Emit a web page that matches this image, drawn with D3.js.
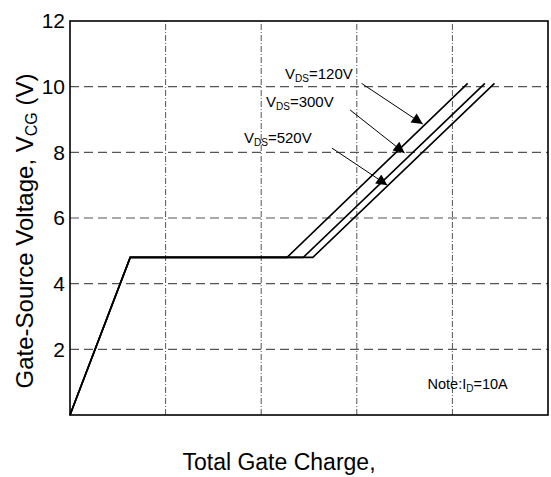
<!DOCTYPE html>
<html>
<head>
<meta charset="utf-8">
<script src="https://cdn.jsdelivr.net/npm/d3@7"></script>
<style>
  body { margin: 0; background: #fff; }
  text { font-family: "Liberation Sans", Arial, sans-serif; fill: #000; }
</style>
</head>
<body>
<div class="chart"></div>
<script>
"use strict";

// gate charge curves (x: charge, y: Vgs)
var vdsLabels = ["120V", "300V", "520V"];
var curveQ = [
  [0, 6.3, 22.7, 41.6],
  [0, 6.3, 24.4, 43.4],
  [0, 6.3, 25.4, 44.4]
];
var curveV = [
  [0, 4.8, 4.8, 10.1],
  [0, 4.8, 4.8, 10.1],
  [0, 4.8, 4.8, 10.1]
];
var yTicks = [2, 4, 6, 8, 10, 12];
var xGrid = [10, 20, 30, 40];

var width = 551,
    height = 477;
var margin = {top: 21, right: 3, bottom: 62, left: 70};

var svg = d3.select(".chart")
          .append("svg")
          .attr("width", width)
          .attr("height", height);

var x = d3.scaleLinear().domain([0, 50]).range([margin.left, width - margin.right]);
var y = d3.scaleLinear().domain([0, 12]).range([height - margin.bottom, margin.top]);

// grid
svg.append("g")
    .selectAll("line")
    .data(xGrid)
    .enter().append("line")
        .attr("x1", function(d){ return x(d); })
        .attr("x2", function(d){ return x(d); })
        .attr("y1", y(0))
        .attr("y2", y(12))
        .style("stroke", "#555")
        .style("stroke-width", 1)
        .style("stroke-dasharray", "6,2,1,2");

svg.append("g")
    .selectAll("line")
    .data(yTicks.filter(function(d){ return d < 12; }))
    .enter().append("line")
        .attr("x1", x(0))
        .attr("x2", x(50))
        .attr("y1", function(d){ return y(d); })
        .attr("y2", function(d){ return y(d); })
        .style("stroke", "#555")
        .style("stroke-width", 1.2)
        .style("stroke-dasharray", "9,5");

// frame
svg.append("rect")
    .attr("x", x(0))
    .attr("y", y(12))
    .attr("width", x(50) - x(0))
    .attr("height", y(0) - y(12))
    .style("fill", "none")
    .style("stroke", "#000")
    .style("stroke-width", 1.6);

// y tick labels
var yAxis = d3.axisLeft(y).tickValues(yTicks).tickSize(0).tickPadding(5);
var ya = svg.append("g")
    .attr("transform", "translate(" + x(0) + ",0)")
    .call(yAxis);
ya.select(".domain").remove();
ya.selectAll("text")
    .style("font-family", "'Liberation Sans', Arial, sans-serif")
    .style("font-size", "21px")
    .style("fill", "#000");

// curves
var line = d3.line()
    .x(function(d){ return x(d[0]); })
    .y(function(d){ return y(d[1]); });

svg.append("g")
    .selectAll("path")
    .data(curveQ.map(function(q, i){
        return q.map(function(v, j){ return [v, curveV[i][j]]; });
    }))
    .enter().append("path")
        .attr("d", line)
        .style("fill", "none")
        .style("stroke", "#000")
        .style("stroke-width", 1.6)
        .style("stroke-linejoin", "miter");

// annotations: label anchor and arrow in data units
var notes = [
  {lx: 22.5, ly: 10.23, ax1: 30.5, ay1: 10.1, ax2: 36.9, ay2: 8.86},
  {lx: 20.5, ly: 9.38,  ax1: 29.3, ay1: 9.29, ax2: 35.0, ay2: 7.98},
  {lx: 18.2, ly: 8.28,  ax1: 27.4, ay1: 8.13, ax2: 33.2, ay2: 7.0}
];

svg.append("defs").append("marker")
    .attr("id", "arrow")
    .attr("viewBox", "0 0 10 10")
    .attr("refX", 10)
    .attr("refY", 5)
    .attr("markerWidth", 15)
    .attr("markerHeight", 11)
    .attr("markerUnits", "userSpaceOnUse")
    .attr("orient", "auto")
  .append("path")
    .attr("d", "M0,0L10,5L0,10Z")
    .style("fill", "#000");

svg.append("g")
    .selectAll("line")
    .data(notes)
    .enter().append("line")
        .attr("x1", function(d){ return x(d.ax1); })
        .attr("y1", function(d){ return y(d.ay1); })
        .attr("x2", function(d){ return x(d.ax2); })
        .attr("y2", function(d){ return y(d.ay2); })
        .style("stroke", "#000")
        .style("stroke-width", 1)
        .attr("marker-end", "url(#arrow)");

var lbl = svg.append("g")
    .selectAll("text")
    .data(notes)
    .enter().append("text")
        .attr("x", function(d){ return x(d.lx); })
        .attr("y", function(d){ return y(d.ly); })
        .style("font-size", "15px");
lbl.append("tspan").text("V");
lbl.append("tspan").attr("dy", 3).style("font-size", "10px").text("DS");
lbl.append("tspan").attr("dy", -3).text(function(d, i){ return "=" + vdsLabels[i]; });

var note = svg.append("text")
    .attr("x", x(37.4))
    .attr("y", y(0.79))
    .style("font-size", "14.5px");
note.append("tspan").text("Note:I");
note.append("tspan").attr("dy", 3).style("font-size", "10px").text("D");
note.append("tspan").attr("dy", -3).text("=10A");

// axis titles
svg.append("text")
    .attr("x", 279)
    .attr("y", 470)
    .style("text-anchor", "middle")
    .style("font-size", "23px")
    .text("Total Gate Charge,");

var yt = svg.append("text")
    .attr("transform", "translate(33," + 231 + ") rotate(-90)")
    .style("text-anchor", "middle")
    .style("font-size", "24px");
yt.append("tspan").text("Gate-Source Voltage, V");
yt.append("tspan").attr("dy", 4).style("font-size", "16px").text("CG");
yt.append("tspan").attr("dy", -4).text(" (V)");
</script>
</body>
</html>
